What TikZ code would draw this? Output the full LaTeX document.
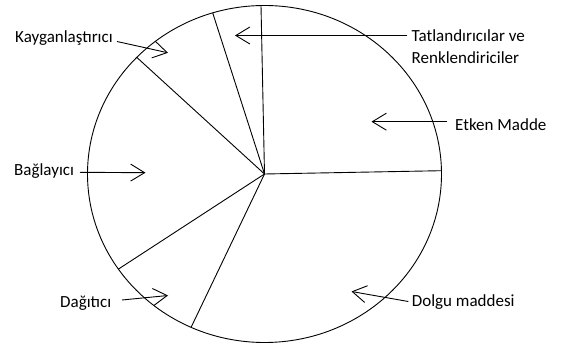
\documentclass[tikz,border=0pt]{standalone}
\usepackage{fontspec}
\setmainfont{Carlito}
\usetikzlibrary{arrows.meta}
\begin{document}
\begin{tikzpicture}[x=1pt,y=-1pt,
  pieline/.style={line width=0.9pt,black},
  pointer/.style={line width=0.9pt,black,-{Straight Barb[length=14pt,width=17pt,line width=0.9pt]}},
  lbl/.style={anchor=base west,inner sep=0pt,font=\fontsize{17}{21.7}\selectfont,align=left}]
\useasboundingbox (0,0) rectangle (565,347);
% pie
\coordinate (c) at (264.5,174);
\draw[pieline] (c) ellipse [x radius=177pt, y radius=168.5pt];
\coordinate (p1) at (261,5.5);
\coordinate (p2) at (212.7,12.9);
\coordinate (p3) at (136.8,57.4);
\coordinate (p4) at (118.4,269.1);
\coordinate (p5) at (191.1,327.3);
\coordinate (p6) at (441.5,170.7);
\foreach \p in {p1,p2,p3,p4,p5,p6} \draw[pieline] (c) -- (\p);
% labels
\node[lbl] (tat) at (411.5,63.4) {Tatlandırıcılar ve\\Renklendiriciler};
\node[lbl] (etk) at (455,130.7) {Etken Madde};
\node[lbl] (kay) at (15,42.5) {Kayganlaştırıcı};
\node[lbl] (bag) at (14,175.8) {Bağlayıcı};
\node[lbl] (dag) at (60,307.5) {Dağıtıcı};
\node[lbl] (dol) at (411.7,306.7) {Dolgu maddesi};
% arrow tips
\coordinate (ttat) at (235,35.5);
\coordinate (tetk) at (371.5,121.7);
\coordinate (tkay) at (168,52.8);
\coordinate (tbag) at (145.5,172.7);
\coordinate (tdag) at (168,295.5);
\coordinate (tdol) at (351.5,291.5);
% arrow starts
\coordinate (stat) at (407,35.5);
\coordinate (setk) at (447,121.7);
\coordinate (skay) at (117,41.5);
\coordinate (sbag) at (80,172.3);
\coordinate (sdag) at (122,300);
\coordinate (sdol) at (408.3,301.5);
\draw[pointer] (stat) -- (ttat);
\draw[pointer] (setk) -- (tetk);
\draw[pointer] (skay) -- (tkay);
\draw[pointer] (sbag) -- (tbag);
\draw[pointer] (sdag) -- (tdag);
\draw[pointer] (sdol) -- (tdol);
\end{tikzpicture}
\end{document}
